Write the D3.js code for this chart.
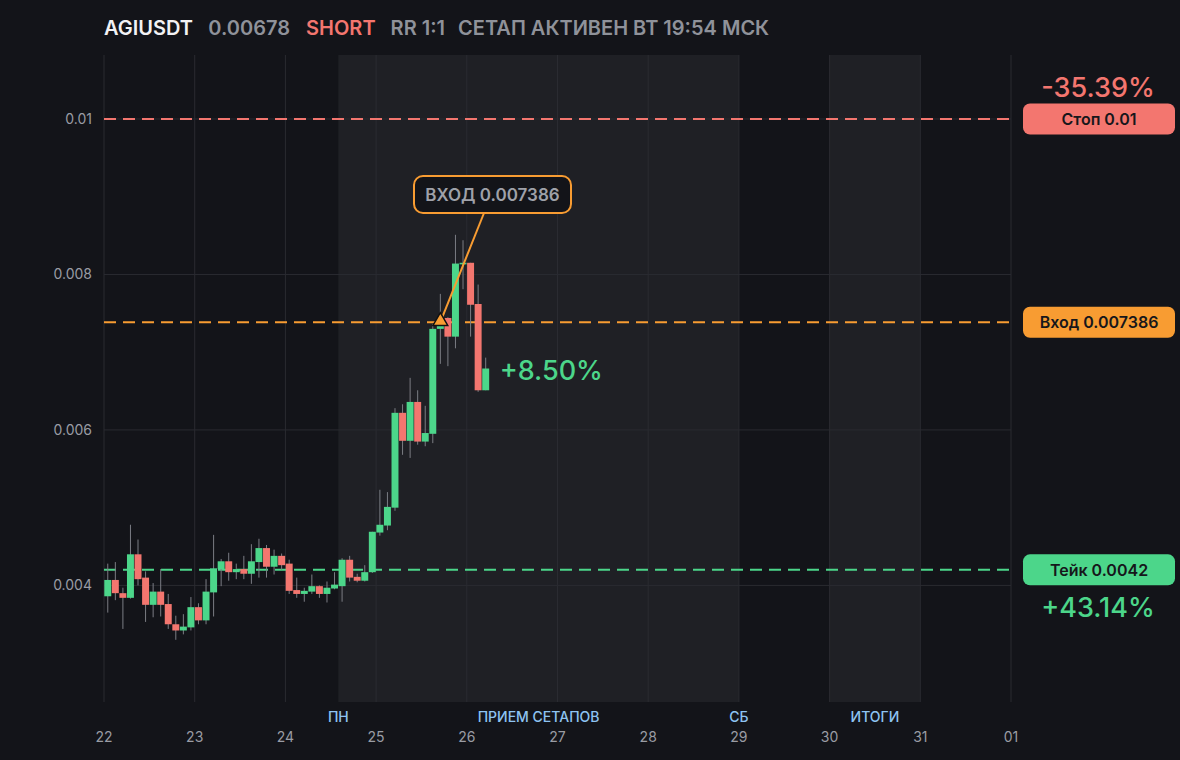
<!DOCTYPE html>
<html>
<head>
  <meta charset="utf-8">
  <style>
    html, body { margin: 0; padding: 0; background: #131419; }
    svg { display: block; font-family: Inter, "Noto Sans", sans-serif; }
  </style>
</head>
<body>
<script src="https://cdn.jsdelivr.net/npm/d3@7"></script>
<script>

// 2h candles, UTC, starting 22 Mar 2025 00:00
var startTime = Date.UTC(2025, 2, 22, 0, 0);
var stepMs = 2 * 3600 * 1000;

var opens  = [0.00386,0.00407,0.00390,0.00384,0.00440,0.00410,0.00375,0.00392,0.00376,0.00350,
              0.00342,0.00346,0.00372,0.00355,0.00391,0.00421,0.00431,0.00417,0.00421,0.00415,
              0.00430,0.00448,0.00424,0.00438,0.00428,0.00394,0.00389,0.00392,0.00399,0.00389,
              0.00396,0.00399,0.00433,0.00411,0.00406,0.00417,0.00468,0.00477,0.00500,0.00622,
              0.00586,0.00636,0.00585,0.00595,0.00730,0.00744,0.00720,0.00813,0.00815,0.00762,
              0.00651];
var highs  = [0.00428,0.00430,0.00397,0.00478,0.00459,0.00418,0.00403,0.00421,0.00389,0.00361,
              0.00363,0.00385,0.00377,0.00408,0.00465,0.00434,0.00442,0.00428,0.00438,0.00453,
              0.00460,0.00452,0.00446,0.00441,0.00433,0.00410,0.00397,0.00414,0.00400,0.00405,
              0.00417,0.00435,0.00438,0.00415,0.00426,0.00469,0.00523,0.00520,0.00628,0.00633,
              0.00667,0.00651,0.00631,0.00736,0.00775,0.00745,0.00851,0.00844,0.00815,0.00787,
              0.00693];
var lows   = [0.00365,0.00381,0.00344,0.00383,0.00400,0.00353,0.00359,0.00360,0.00344,0.00330,
              0.00337,0.00342,0.00350,0.00350,0.00360,0.00399,0.00406,0.00408,0.00408,0.00402,
              0.00410,0.00410,0.00414,0.00420,0.00389,0.00384,0.00379,0.00389,0.00384,0.00378,
              0.00395,0.00379,0.00405,0.00404,0.00405,0.00416,0.00464,0.00471,0.00496,0.00568,
              0.00564,0.00581,0.00579,0.00583,0.00685,0.00682,0.00705,0.00781,0.00720,0.00649,
              0.00651];
var closes = [0.00407,0.00390,0.00384,0.00440,0.00408,0.00375,0.00392,0.00375,0.00350,0.00342,
              0.00347,0.00372,0.00355,0.00392,0.00422,0.00431,0.00417,0.00421,0.00415,0.00431,
              0.00448,0.00424,0.00438,0.00426,0.00393,0.00389,0.00393,0.00399,0.00389,0.00397,
              0.00401,0.00433,0.00410,0.00406,0.00417,0.00469,0.00478,0.00501,0.00622,0.00586,
              0.00636,0.00585,0.00596,0.00730,0.00744,0.00720,0.00814,0.00815,0.00761,0.00651,
              0.00679];

var dayTicks  = ["22","23","24","25","26","27","28","29","30","31","01"];
var priceTicks = [0.004, 0.006, 0.008, 0.01];

var stopPrice = 0.01, entryPrice = 0.007386, takePrice = 0.0042;
var entryIndex = 44;
var lastPrice = 0.00678;
var movePct = "+8.50%";

// session bands and labels
var bands = [
  {from: Date.UTC(2025, 2, 24, 14), to: Date.UTC(2025, 2, 29)},
  {from: Date.UTC(2025, 2, 30), to: Date.UTC(2025, 2, 31)}
];
var sessionLabels = [
  {t: Date.UTC(2025, 2, 24, 14), text: "ПН"},
  {t: Date.UTC(2025, 2, 26, 19), text: "ПРИЕМ СЕТАПОВ"},
  {t: Date.UTC(2025, 2, 29), text: "СБ"},
  {t: Date.UTC(2025, 2, 30, 12), text: "ИТОГИ"}
];

var W = 1180, H = 760;
var plotL = 104, plotR = 1011, plotT = 55, plotB = 702;

var colGreen = "#4cd68a", colRed = "#f3766f", colOrange = "#f89c32";

var candles = opens.map(function(o, i) {
  return {t: startTime + i * stepMs, o: o, h: highs[i], l: lows[i], c: closes[i]};
});

var svg = d3.select("body").append("svg").attr("width", W).attr("height", H);
svg.append("rect").attr("width", W).attr("height", H).attr("fill", "#131419");

var x = d3.scaleUtc()
  .domain([new Date(Date.UTC(2025, 2, 22)), new Date(Date.UTC(2025, 3, 1))])
  .range([plotL, plotR]);
var y = d3.scaleLinear().domain([0.0025, 0.010823]).range([plotB, plotT]);

// shaded sessions
svg.selectAll("rect.band").data(bands).enter().append("rect")
  .attr("x", function(d) { return x(d.from); })
  .attr("width", function(d) { return x(d.to) - x(d.from); })
  .attr("y", plotT).attr("height", plotB - plotT)
  .attr("fill", "#1f2025");

// grid
var dayDates = dayTicks.map(function(d, i) { return new Date(Date.UTC(2025, 2, 22 + i)); });
svg.selectAll("line.vg").data(dayDates).enter().append("line")
  .attr("x1", function(d) { return x(d); }).attr("x2", function(d) { return x(d); })
  .attr("y1", plotT).attr("y2", plotB)
  .attr("stroke", "#2a2b31").attr("stroke-width", 1);
svg.selectAll("line.hg").data(priceTicks).enter().append("line")
  .attr("x1", plotL).attr("x2", plotR)
  .attr("y1", function(d) { return y(d); }).attr("y2", function(d) { return y(d); })
  .attr("stroke", "#2a2b31").attr("stroke-width", 1);

// axis labels
svg.selectAll("text.yl").data(priceTicks).enter().append("text")
  .attr("x", 92).attr("y", function(d) { return y(d) + 5; })
  .attr("text-anchor", "end").attr("font-size", 14).attr("fill", "#9a9ca4")
  .text(function(d) { return String(d); });

svg.selectAll("text.xl").data(dayDates).enter().append("text")
  .attr("x", function(d) { return x(d); }).attr("y", 742)
  .attr("text-anchor", "middle").attr("font-size", 14).attr("fill", "#9a9ca4")
  .text(function(d, i) { return dayTicks[i]; });

svg.selectAll("text.sl").data(sessionLabels).enter().append("text")
  .attr("x", function(d) { return x(d.t); }).attr("y", 722)
  .attr("text-anchor", "middle").attr("font-size", 14).attr("font-weight", 500)
  .attr("fill", "#8ec4f2")
  .text(function(d) { return d.text; });

// level lines
var levels = [
  {p: stopPrice, c: colRed, label: "Стоп 0.01"},
  {p: entryPrice, c: colOrange, label: "Вход 0.007386"},
  {p: takePrice, c: colGreen, label: "Тейк 0.0042"}
];
svg.selectAll("line.lv").data(levels).enter().append("line")
  .attr("x1", plotL).attr("x2", plotR)
  .attr("y1", function(d) { return y(d.p); }).attr("y2", function(d) { return y(d.p); })
  .attr("stroke", function(d) { return d.c; }).attr("stroke-width", 2)
  .attr("stroke-dasharray", "12,7");

// candles
var cw = (x(startTime + stepMs) - x(startTime));
var bodyW = cw - 0.6;
var g = svg.append("g");
g.selectAll("line.wick").data(candles).enter().append("line")
  .attr("x1", function(d) { return x(d.t + stepMs / 2); })
  .attr("x2", function(d) { return x(d.t + stepMs / 2); })
  .attr("y1", function(d) { return y(d.h); }).attr("y2", function(d) { return y(d.l); })
  .attr("stroke", "#7b7d84").attr("stroke-width", 1);
g.selectAll("rect.body").data(candles).enter().append("rect")
  .attr("x", function(d) { return x(d.t + stepMs / 2) - bodyW / 2; })
  .attr("width", bodyW)
  .attr("y", function(d) { return y(Math.max(d.o, d.c)); })
  .attr("height", function(d) { return Math.max(1.5, Math.abs(y(d.o) - y(d.c))); })
  .attr("fill", function(d) { return d.c >= d.o ? colGreen : colRed; });

// entry callout
var ex = x(candles[entryIndex].t + stepMs / 2), ey = y(entryPrice);
svg.append("line")
  .attr("x1", ex).attr("y1", ey).attr("x2", 484).attr("y2", 213)
  .attr("stroke", colOrange).attr("stroke-width", 2);
svg.append("rect")
  .attr("x", 414).attr("y", 176).attr("width", 157).attr("height", 37).attr("rx", 9)
  .attr("fill", "#131419").attr("stroke", colOrange).attr("stroke-width", 2);
svg.append("text")
  .attr("x", 492.5).attr("y", 200.5).attr("text-anchor", "middle")
  .attr("font-size", 17).attr("font-weight", 600).attr("fill", "#9fa1a9")
  .text("ВХОД " + entryPrice);
svg.append("path")
  .attr("d", d3.symbol().type(d3.symbolTriangle).size(95)())
  .attr("transform", "translate(" + ex + "," + (ey - 1) + ")")
  .attr("fill", colOrange).attr("stroke", "#111").attr("stroke-width", 1.5);

// current move
var last = candles[candles.length - 1];
svg.append("text")
  .attr("x", x(last.t + stepMs / 2) + 14).attr("y", y(last.c) + 11)
  .attr("font-size", 27).attr("font-weight", 500).attr("fill", colGreen)
  .text(movePct);

// right side labels
var tags = svg.selectAll("g.tag").data(levels).enter().append("g")
  .attr("transform", function(d) { return "translate(1023," + (y(d.p) - 15.5) + ")"; });
tags.append("rect").attr("width", 152).attr("height", 31).attr("rx", 7)
  .attr("fill", function(d) { return d.c; });
tags.append("text").attr("x", 76).attr("y", 21.5)
  .attr("text-anchor", "middle").attr("font-size", 16).attr("font-weight", 600)
  .attr("fill", "#16171b")
  .text(function(d) { return d.label; });

var stopPct = (entryPrice - stopPrice) / entryPrice * 100;
var takePct = (entryPrice - takePrice) / entryPrice * 100;
svg.append("text").attr("x", 1098).attr("y", 97).attr("text-anchor", "middle")
  .attr("font-size", 27).attr("font-weight", 500).attr("fill", colRed)
  .text(stopPct.toFixed(2) + "%");
svg.append("text").attr("x", 1098).attr("y", 617).attr("text-anchor", "middle")
  .attr("font-size", 27).attr("font-weight", 500).attr("fill", colGreen)
  .text("+" + takePct.toFixed(2) + "%");

// header
var head = svg.append("text").attr("x", 104).attr("y", 35)
  .attr("font-size", 20).attr("font-weight", 600);
head.append("tspan").attr("fill", "#f2f2f4").text("AGIUSDT");
head.append("tspan").attr("dx", 16).attr("fill", "#8f929a").text(String(lastPrice));
head.append("tspan").attr("dx", 16).attr("fill", colRed).text("SHORT");
head.append("tspan").attr("dx", 15).attr("fill", "#8f929a").text("RR 1:1");
head.append("tspan").attr("dx", 13).attr("fill", "#8f929a").text("СЕТАП АКТИВЕН ВТ 19:54 МСК");

</script>
</body>
</html>
